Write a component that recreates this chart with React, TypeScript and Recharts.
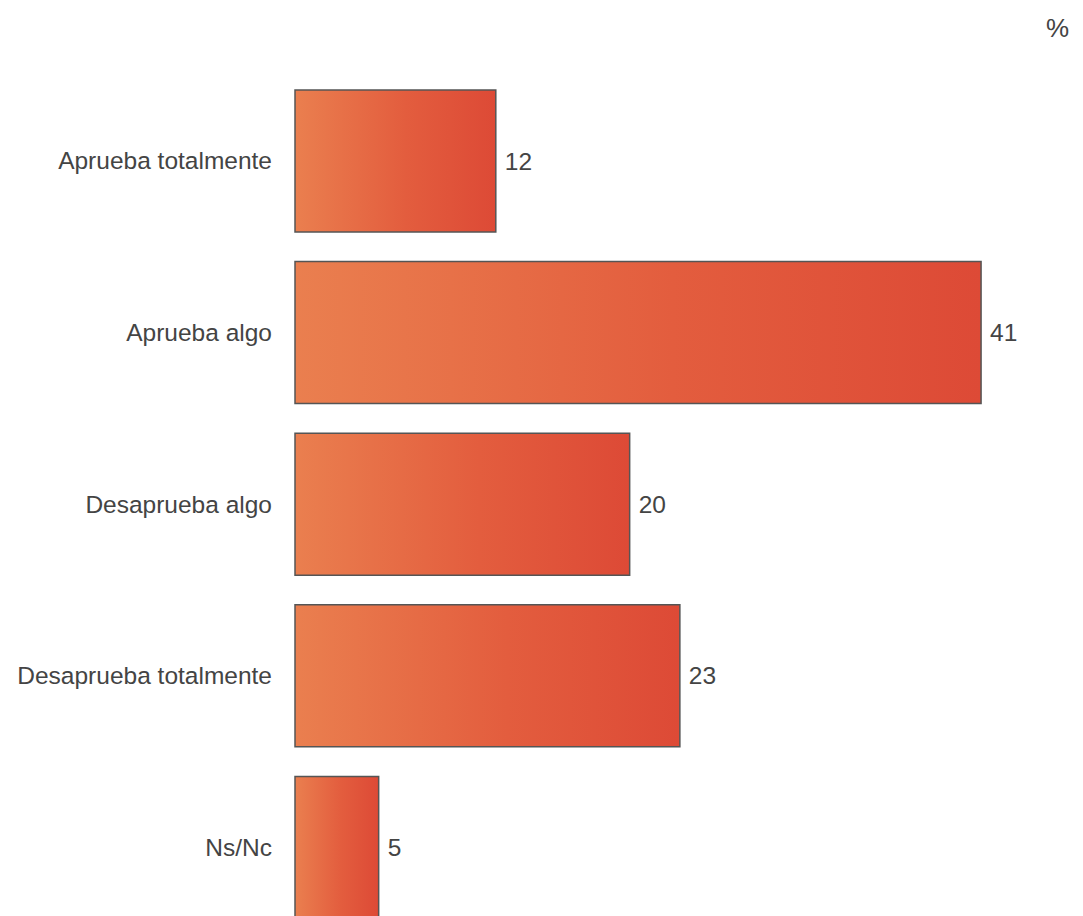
import { BarChart, Bar, XAxis, YAxis, LabelList } from 'recharts';

const categories = ['Aprueba totalmente', 'Aprueba algo', 'Desaprueba algo', 'Desaprueba totalmente', 'Ns/Nc'];
const values = [12, 41, 20, 23, 5];

const data = categories.map((name, i) => ({ name, value: values[i] }));

const FONT = '"Liberation Sans", Arial, sans-serif';
const TEXT = '#444444';

export default function App() {
  return (
    <div style={{ position: 'absolute', left: 0, top: 0, width: 1083, height: 916, overflow: 'hidden', background: '#fff' }}>
      <div style={{ position: 'absolute', left: 1046, top: 13, fontFamily: FONT, fontSize: 26, color: TEXT }}>%</div>
      <BarChart
        width={1083}
        height={935}
        data={data}
        layout="vertical"
        margin={{ top: 75, right: 35, bottom: 2, left: 0 }}
        barCategoryGap={15}
      >
        <defs>
          <linearGradient id="barGrad" x1="0" y1="0" x2="1" y2="0">
            <stop offset="0%" stopColor="#ea7f4f" />
            <stop offset="55%" stopColor="#e35d3e" />
            <stop offset="100%" stopColor="#dd4a36" />
          </linearGradient>
        </defs>
        <XAxis type="number" domain={[0, 45]} hide />
        <YAxis
          type="category"
          dataKey="name"
          width={295}
          axisLine={false}
          tickLine={false}
          tickSize={0}
          tickMargin={23}
          tick={{ fontSize: 24.5, fill: TEXT, fontFamily: FONT }}
        />
        <Bar dataKey="value" fill="url(#barGrad)" stroke="#555555" strokeWidth={1.5} isAnimationActive={false}>
          <LabelList dataKey="value" position="right" offset={9} style={{ fontSize: 24.5, fill: TEXT, fontFamily: FONT }} />
        </Bar>
      </BarChart>
    </div>
  );
}
